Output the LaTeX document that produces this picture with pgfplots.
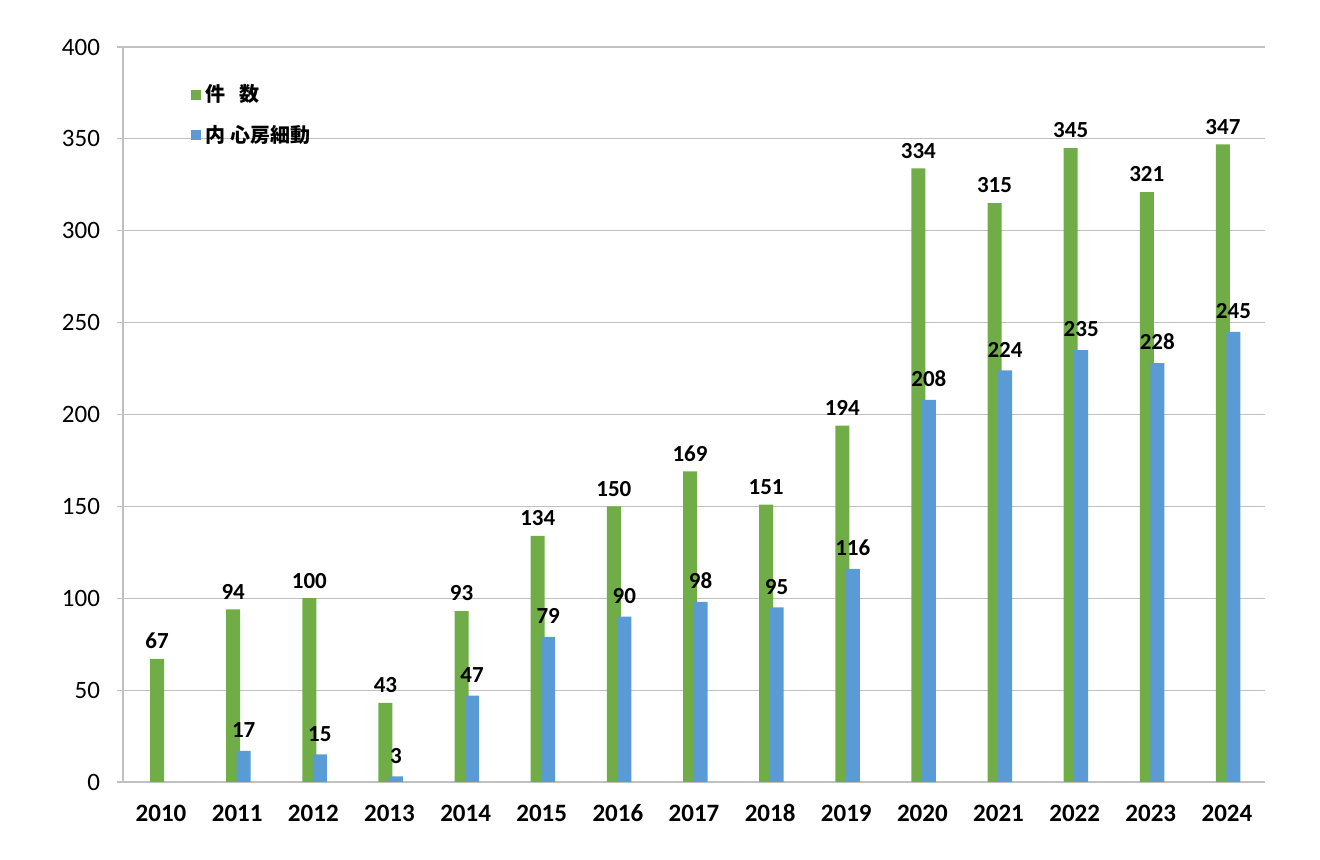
\documentclass[border=0pt]{standalone}
\usepackage{fontspec}
\setmainfont{Carlito}
\newfontfamily\cjk{Noto Sans CJK JP}
\usepackage{pgfplots}
\pgfplotsset{compat=1.18}
\definecolor{cgreen}{HTML}{70AD47}
\definecolor{cblue}{HTML}{5B9BD5}
\definecolor{cgrid}{HTML}{C0C0C0}
\begin{document}
\begin{tikzpicture}
\path[use as bounding box] (-61.5pt,-39pt) rectangle (598.5pt,391pt);
\begin{axis}[
  scale only axis,
  width=571pt, height=367.5pt,
  xmin=-0.5, xmax=14.5,
  ymin=0, ymax=400,
  ytick={0,50,...,400},
  xtick={0,...,14},
  xticklabels={2010,2011,2012,2013,2014,2015,2016,2017,2018,2019,2020,2021,2022,2023,2024},
  /pgf/number format/assume math mode=true,
  axis x line*=bottom,
  axis y line*=left,
  x axis line style={draw=none},
  y axis line style={draw=cgrid, line width=0.6pt},
  ymajorgrids,
  grid style={draw=cgrid, line width=0.6pt},
  major x tick style={draw=none},
  major y tick style={draw=cgrid, line width=0.6pt},
  tick align=outside,
  major tick length=3pt,
  yticklabel style={font=\fontsize{12.5}{14}\selectfont, xshift=-5pt},
  xticklabel style={font=\fontsize{12.5}{14}\selectfont\bfseries, text height=9pt, text depth=0pt, yshift=-4pt},
  legend style={draw=none, fill=none, at={(0.054,0.96)}, anchor=north west,
    font=\cjk\bfseries\fontsize{10}{12}\selectfont, row sep=6pt,
    legend cell align=left},
  legend image code/.code={\fill[#1] (0pt,-2.6pt) rectangle (5.2pt,2.6pt);},
]
\addplot[ybar, bar width=7pt, bar shift=-2pt, fill=cgreen, draw=none,
  nodes near coords,
  every node near coord/.append style={font=\fontsize{11.5}{13}\selectfont\bfseries, black, xshift=-2pt, yshift=1.5pt}] coordinates {
(0,67) (1,94) (2,100) (3,43) (4,93) (5,134) (6,150) (7,169) (8,151) (9,194)
(10,334) (11,315) (12,345) (13,321) (14,347)};
\addlegendentry{件\hspace{0.7em}数}
\addplot[ybar, bar width=7pt, bar shift=3.25pt, fill=cblue, draw=none,
  nodes near coords,
  every node near coord/.append style={font=\fontsize{11.5}{13}\selectfont\bfseries, black, xshift=3.25pt, yshift=3pt}] coordinates {
(1,17) (2,15) (3,3) (4,47) (5,79) (6,90) (7,98) (8,95) (9,116)
(10,208) (11,224) (12,235) (13,228) (14,245)};
\addlegendentry{内 心房細動}
\end{axis}
\end{tikzpicture}
\end{document}
